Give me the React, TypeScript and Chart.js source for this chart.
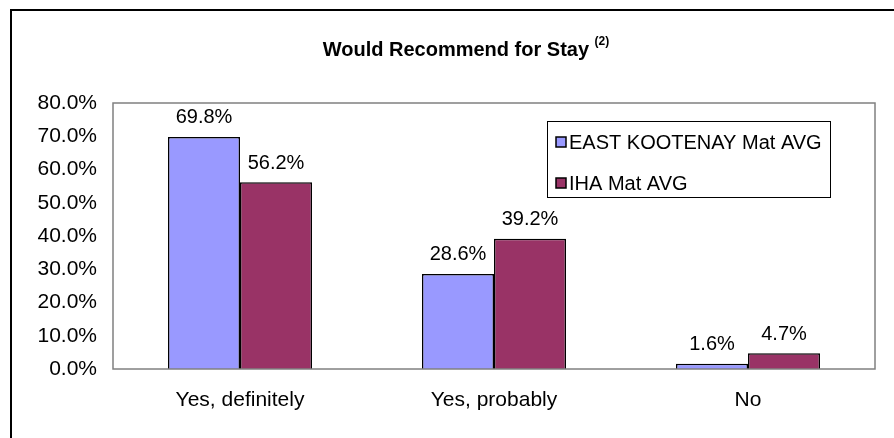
import React, { useEffect, useRef } from "react";
import { Chart, registerables } from "chart.js";

Chart.register(...registerables);

const categories = ["Yes, definitely", "Yes, probably", "No"];
const seriesNames = ["EAST KOOTENAY Mat AVG", "IHA Mat AVG"];
const eastKootenay = [69.8, 28.6, 1.6];
const ihaAvg = [56.2, 39.2, 4.7];
const yTicks = [0, 10, 20, 30, 40, 50, 60, 70, 80];

const FONT = "'Liberation Sans', Arial, sans-serif";
const COLORS = ["#9999FF", "#993366"];

const overlay = {
  id: "overlay",
  afterDraw(chart: any) {
    const ctx = chart.ctx as CanvasRenderingContext2D;
    const area = chart.chartArea;
    ctx.save();
    // outer frame (left + top visible)
    ctx.strokeStyle = "#000";
    ctx.lineWidth = 2;
    ctx.beginPath();
    ctx.moveTo(11, 460);
    ctx.lineTo(11, 10);
    ctx.lineTo(920, 10);
    ctx.stroke();
    // plot border
    ctx.strokeStyle = "#808080";
    ctx.lineWidth = 1.5;
    ctx.strokeRect(area.left, area.top, area.right - area.left, area.bottom - area.top);

    // title
    ctx.fillStyle = "#000";
    ctx.textBaseline = "alphabetic";
    const t = "Would Recommend for Stay ";
    ctx.font = `bold 20px ${FONT}`;
    const w1 = ctx.measureText(t).width;
    ctx.font = `bold 12px ${FONT}`;
    const w2 = ctx.measureText("(2)").width;
    const x0 = 466 - (w1 + w2) / 2;
    ctx.font = `bold 20px ${FONT}`;
    ctx.textAlign = "left";
    ctx.fillText(t, x0, 56);
    ctx.font = `bold 12px ${FONT}`;
    ctx.fillText("(2)", x0 + w1, 45);

    // data labels
    ctx.font = `20px ${FONT}`;
    ctx.textAlign = "center";
    ctx.textBaseline = "bottom";
    chart.data.datasets.forEach((ds: any, i: number) => {
      const meta = chart.getDatasetMeta(i);
      meta.data.forEach((bar: any, j: number) => {
        ctx.fillText(ds.data[j].toFixed(1) + "%", bar.x, bar.y - 9);
      });
    });

    // legend
    const lx = 547, ly = 121, lw = 283, lh = 76;
    ctx.fillStyle = "#fff";
    ctx.fillRect(lx, ly, lw, lh);
    ctx.strokeStyle = "#000";
    ctx.lineWidth = 1;
    ctx.strokeRect(lx + 0.5, ly + 0.5, lw, lh);
    ctx.textAlign = "left";
    ctx.textBaseline = "middle";
    ctx.font = `20px ${FONT}`;
    const rows = [142, 183];
    seriesNames.forEach((name, i) => {
      ctx.fillStyle = COLORS[i];
      ctx.fillRect(556, rows[i] - 5, 10, 10);
      ctx.strokeStyle = "#000";
      ctx.lineWidth = 1.5;
      ctx.strokeRect(556, rows[i] - 5, 10, 10);
      ctx.fillStyle = "#000";
      ctx.fillText(name, 569, rows[i] + 1);
    });
    ctx.restore();
  },
};

export default function App() {
  const ref = useRef<HTMLCanvasElement>(null);
  useEffect(() => {
    if (!ref.current) return;
    const chart = new Chart(ref.current, {
      type: "bar",
      data: {
        labels: categories,
        datasets: [
          {
            label: seriesNames[0],
            data: eastKootenay,
            backgroundColor: COLORS[0],
            borderColor: "#000",
            borderWidth: 1.5,
            barPercentage: 1,
            categoryPercentage: 0.567,
          },
          {
            label: seriesNames[1],
            data: ihaAvg,
            backgroundColor: COLORS[1],
            borderColor: "#000",
            borderWidth: 1.5,
            barPercentage: 1,
            categoryPercentage: 0.567,
          },
        ],
      },
      options: {
        animation: false,
        responsive: false,
        devicePixelRatio: 1,
        layout: { padding: { left: 0, right: 19, top: 103, bottom: 0 } },
        plugins: { legend: { display: false }, title: { display: false }, tooltip: { enabled: false } },
        scales: {
          x: {
            grid: { display: false, drawTicks: false },
            border: { display: false },
            ticks: { color: "#000", font: { family: FONT, size: 21 }, padding: 19, maxRotation: 0 },
            afterFit: (s: any) => { s.height = 69; },
          },
          y: {
            min: 0,
            max: 80,
            afterBuildTicks: (s: any) => { s.ticks = yTicks.map((v) => ({ value: v })); },
            grid: { display: false, drawTicks: false },
            border: { display: false },
            ticks: {
              color: "#000",
              font: { family: FONT, size: 21 },
              padding: 16,
              callback: (v: any) => Number(v).toFixed(1) + "%",
            },
            afterFit: (s: any) => { s.width = 113; },
          },
        },
      },
      plugins: [overlay],
    });
    return () => chart.destroy();
  }, []);
  return (
    <div style={{ position: "fixed", left: 0, top: 0, width: 894, height: 438, background: "#fff" }}>
      <canvas ref={ref} width={894} height={438} style={{ width: 894, height: 438 }} />
    </div>
  );
}
